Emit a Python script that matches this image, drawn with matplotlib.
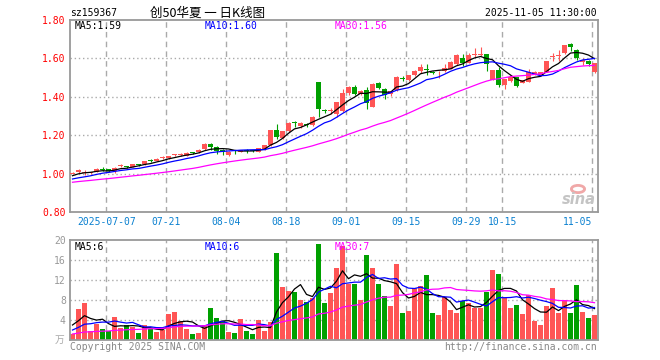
import numpy as np
import pandas as pd
import matplotlib
matplotlib.use("Agg")
import matplotlib.pyplot as plt
from matplotlib.patches import Circle

# ---------------- data ----------------
open_ = [1.000, 1.006, 1.004, 1.002, 1.010, 1.024, 1.022, 1.012, 1.038, 1.038,
         1.036, 1.047, 1.050, 1.067, 1.066, 1.083, 1.082, 1.095, 1.098, 1.094,
         1.110, 1.110, 1.128, 1.153, 1.137, 1.124, 1.097, 1.120, 1.113, 1.123,
         1.122, 1.113, 1.127, 1.149, 1.226, 1.184, 1.222, 1.266, 1.248, 1.258,
         1.252, 1.477, 1.330, 1.327, 1.310, 1.326, 1.421, 1.451, 1.416, 1.435,
         1.347, 1.474, 1.442, 1.412, 1.435, 1.496, 1.487, 1.515, 1.536, 1.543,
         1.529, 1.527, 1.536, 1.546, 1.571, 1.600, 1.578, 1.616, 1.616, 1.621,
         1.488, 1.540, 1.460, 1.484, 1.502, 1.474, 1.479, 1.517, 1.514, 1.531,
         1.607, 1.614, 1.627, 1.674, 1.644, 1.580, 1.587, 1.531]
high = [1.008, 1.024, 1.018, 1.008, 1.027, 1.035, 1.025, 1.032, 1.050, 1.042,
        1.052, 1.052, 1.068, 1.075, 1.079, 1.090, 1.094, 1.101, 1.108, 1.112,
        1.113, 1.127, 1.157, 1.157, 1.142, 1.128, 1.117, 1.122, 1.123, 1.126,
        1.125, 1.134, 1.150, 1.228, 1.258, 1.224, 1.270, 1.276, 1.268, 1.262,
        1.300, 1.477, 1.336, 1.340, 1.375, 1.439, 1.455, 1.463, 1.436, 1.451,
        1.470, 1.476, 1.445, 1.432, 1.508, 1.508, 1.515, 1.540, 1.571, 1.571,
        1.534, 1.535, 1.571, 1.585, 1.624, 1.623, 1.630, 1.652, 1.660, 1.624,
        1.542, 1.554, 1.493, 1.513, 1.505, 1.490, 1.543, 1.532, 1.531, 1.588,
        1.628, 1.645, 1.672, 1.682, 1.650, 1.600, 1.590, 1.578]
low = [0.996, 1.002, 0.994, 0.998, 1.006, 1.012, 1.008, 1.004, 1.032, 1.030,
       1.033, 1.040, 1.047, 1.060, 1.064, 1.076, 1.078, 1.090, 1.094, 1.090,
       1.104, 1.108, 1.125, 1.125, 1.100, 1.095, 1.093, 1.100, 1.110, 1.105,
       1.110, 1.110, 1.125, 1.145, 1.182, 1.180, 1.218, 1.244, 1.238, 1.245,
       1.247, 1.297, 1.318, 1.312, 1.293, 1.322, 1.407, 1.407, 1.410, 1.337,
       1.345, 1.440, 1.390, 1.402, 1.432, 1.484, 1.484, 1.510, 1.522, 1.512,
       1.518, 1.500, 1.530, 1.543, 1.568, 1.562, 1.575, 1.606, 1.612, 1.533,
       1.486, 1.449, 1.440, 1.478, 1.450, 1.470, 1.477, 1.512, 1.510, 1.529,
       1.585, 1.585, 1.625, 1.637, 1.594, 1.565, 1.562, 1.526]
close = [1.004, 1.020, 1.006, 1.004, 1.024, 1.021, 1.012, 1.030, 1.041, 1.036,
         1.050, 1.045, 1.065, 1.065, 1.077, 1.085, 1.092, 1.097, 1.100, 1.108,
         1.108, 1.125, 1.153, 1.139, 1.120, 1.114, 1.115, 1.118, 1.121, 1.120,
         1.116, 1.132, 1.148, 1.226, 1.190, 1.221, 1.265, 1.262, 1.264, 1.255,
         1.296, 1.337, 1.327, 1.330, 1.373, 1.421, 1.451, 1.416, 1.432, 1.366,
         1.467, 1.448, 1.409, 1.428, 1.503, 1.492, 1.512, 1.536, 1.557, 1.540,
         1.526, 1.530, 1.550, 1.581, 1.620, 1.574, 1.618, 1.619, 1.619, 1.569,
         1.540, 1.462, 1.491, 1.505, 1.457, 1.488, 1.531, 1.527, 1.528, 1.585,
         1.610, 1.617, 1.670, 1.657, 1.601, 1.590, 1.569, 1.574]
volume = [1.3, 6.2, 7.4, 1.8, 3.2, 2.2, 1.8, 4.6, 2.4, 3.0,
          2.6, 1.4, 3.0, 2.2, 1.6, 2.0, 5.2, 5.6, 3.8, 2.2,
          1.2, 1.4, 3.0, 6.4, 4.4, 3.8, 1.7, 1.4, 4.2, 1.8,
          1.2, 4.0, 1.8, 3.6, 17.4, 10.6, 9.8, 9.6, 8.0, 7.6,
          8.4, 19.2, 7.4, 9.4, 14.4, 18.8, 11.3, 11.2, 8.0, 17.0,
          14.4, 11.2, 8.8, 6.8, 15.2, 5.4, 5.8, 10.4, 10.8, 13.0,
          5.4, 5.0, 8.6, 6.0, 5.4, 7.8, 7.4, 6.4, 6.4, 9.6,
          14.0, 13.2, 8.4, 6.4, 7.0, 5.2, 9.0, 3.8, 3.0, 6.8,
          10.4, 5.4, 8.0, 5.4, 11.0, 5.6, 4.4, 5.0]
# closes / volumes of the 29 sessions before the window (inferred from where the MA lines start)
warmup_close = [0.912, 0.915, 0.918, 0.920, 0.924, 0.926, 0.930, 0.932, 0.936, 0.941,
                0.950, 0.955, 0.962, 0.968, 0.972, 0.975, 0.970, 0.968, 0.975, 0.981,
                0.960, 0.955, 0.950, 0.952, 0.958, 0.970, 0.980, 0.992, 0.999]
warmup_volume = [0.7, 0.9, 0.8, 0.6, 0.9, 0.8, 0.7, 1.0, 0.8, 0.7,
                 0.9, 0.8, 0.6, 0.8, 0.9, 0.7, 0.8, 0.9, 0.8, 0.9,
                 0.9, 1.1, 0.9, 1.0, 1.1, 1.9, 2.35, 4.6, 4.85]
holidays = ["2025-10-01", "2025-10-02", "2025-10-03", "2025-10-06", "2025-10-07", "2025-10-08"]
tick_dates = ["2025-07-07", "2025-07-21", "2025-08-04", "2025-08-18", "2025-09-01",
              "2025-09-15", "2025-09-29", "2025-10-15", "2025-11-05"]
price_ticks = [0.80, 1.00, 1.20, 1.40, 1.60, 1.80]
vol_ticks = [4, 8, 12, 16, 20]
ma_price_text = ["MA5:1.59", "MA10:1.60", "MA30:1.56"]
ma_vol_text = ["MA5:6", "MA10:6", "MA30:7"]
code = "sz159367"
title = "创50华夏 一 日K线图"
stamp = "2025-11-05 11:30:00"

# ---------------- derived ----------------
days = pd.bdate_range("2025-06-27", "2025-11-05")
days = days[~days.isin(pd.to_datetime(holidays))]
n = len(close)
x = np.arange(n)
o = np.array(open_); h = np.array(high); l = np.array(low); c = np.array(close)
v = np.array(volume)
RED, GREEN = "#ff5555", "#00a000"
cols = [RED if c[i] >= o[i] else GREEN for i in range(n)]

fc = pd.Series(warmup_close + close)
fv = pd.Series(warmup_volume + volume)
w = len(warmup_close)
ma_colors = ["#000000", "#0000ff", "#ff00ff"]
ma_n = [5, 10, 30]

plt.rcParams["font.family"] = ["DejaVu Sans Mono"]
W, H = 660, 360
fig = plt.figure(figsize=(W / 100, H / 100), dpi=100)
fig.patch.set_facecolor("white")


def fx(px):
    return px / W


def fy(py):
    return 1 - py / H


ax = fig.add_axes([fx(70), fy(212), fx(528), 192 / H])
ax2 = fig.add_axes([fx(70), fy(340), fx(528), 100 / H])

tick_pos = [int(np.where(days == pd.Timestamp(d))[0][0]) - 0.38 for d in tick_dates]
tick_lab = [tick_dates[0]] + [d[5:] for d in tick_dates[1:]]

for a in (ax, ax2):
    a.set_xlim(-0.4167, 87.583)
    for s in a.spines.values():
        s.set_color("#999999")
        s.set_linewidth(1.3)
    for p in tick_pos:
        a.axvline(p, color="#aaaaaa", lw=1.0, ls=(0, (4, 3)), zorder=0)
    a.tick_params(length=0)

# sina watermark (behind the data)
fig.text(fx(579), fy(199), "sina", fontsize=10.5, va="center", ha="center",
         color="#c4c4c4", style="italic", weight="bold", family=["DejaVu Sans"], zorder=0)
fig.patches.append(Circle((fx(578), fy(189)), 0.010, transform=fig.transFigure,
                          facecolor="none", edgecolor="#f0a8a8", lw=2.0, zorder=0))

# ---- candles ----
body_lo = np.minimum(o, c)
body_h = np.maximum(np.abs(c - o), 0.0045)
ax.vlines(x, l, h, colors=cols, lw=0.8, zorder=2)
ax.bar(x, body_h, bottom=body_lo, width=0.83, color=cols, lw=0, zorder=3)
for k, col in zip(ma_n, ma_colors):
    ma = fc.rolling(k).mean().iloc[w:].values
    ax.plot(x, ma, color=col, lw=0.9, zorder=4)
ax.set_ylim(0.80, 1.80)
ax.set_yticks(price_ticks)
ax.set_yticklabels([f"{t:.2f}" for t in price_ticks], color="#ff0000", fontsize=7)
for t in price_ticks[1:-1]:
    ax.axhline(t, color="#aaaaaa", lw=1.0, ls=(0, (1, 2)), zorder=0)
ax.set_xticks(tick_pos)
ax.set_xticklabels(tick_lab, color="#0a80d0", fontsize=7)
ax.tick_params(axis="y", pad=3)
ax.tick_params(axis="x", pad=3.5)
labs = ax.get_xticklabels()
labs[-1].set_horizontalalignment("right")
ax.patch.set_alpha(0)

# ---- volume ----
ax2.bar(x, v, width=0.83, color=cols, lw=0, zorder=2)
for k, col in zip(ma_n, ma_colors):
    ma = fv.rolling(k).mean().iloc[w:].values
    ax2.plot(x, ma, color=col, lw=0.9, zorder=4)
ax2.set_ylim(0, 20)
ax2.set_yticks(vol_ticks)
ax2.set_yticklabels([str(t) for t in vol_ticks], color="#999999", fontsize=7)
for t in vol_ticks[:-1]:
    ax2.axhline(t, color="#aaaaaa", lw=1.0, ls=(0, (1, 2)), zorder=0)
ax2.set_xticks(tick_pos)
ax2.set_xticklabels([])
ax2.tick_params(axis="y", pad=3)

# ---- texts ----
fig.text(fx(70), fy(13), code, fontsize=7, va="center", ha="left")
fig.text(fx(150), fy(13), title, fontsize=9, va="center", ha="left",
         family=["Noto Sans CJK SC", "DejaVu Sans"])
fig.text(fx(597), fy(13), stamp, fontsize=7, va="center", ha="right")
for px, t, col in zip([75, 205, 335], ma_price_text, ma_colors):
    fig.text(fx(px), fy(26), t, fontsize=7, va="center", ha="left", color=col)
for px, t, col in zip([75, 205, 335], ma_vol_text, ma_colors):
    fig.text(fx(px), fy(246.5), t, fontsize=7, va="center", ha="left", color=col)
fig.text(fx(70), fy(347), "Copyright 2025 SINA.COM", fontsize=7, va="center",
         ha="left", color="#888888")
fig.text(fx(597), fy(347), "http://finance.sina.com.cn", fontsize=7, va="center",
         ha="right", color="#888888")
fig.text(fx(64), fy(340), "万", fontsize=7, va="center", ha="right", color="#aaaaaa",
         family=["Noto Sans CJK SC", "DejaVu Sans"])

fig.savefig("out.png", dpi=100, facecolor="white")
